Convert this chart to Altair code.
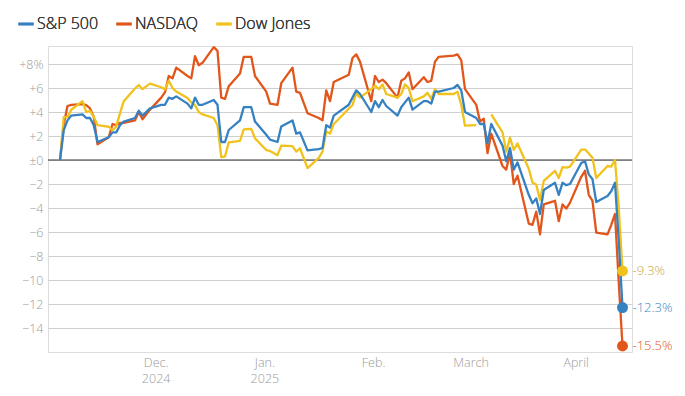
import altair as alt
import pandas as pd

# ---- data (percent change since Nov. 5, 2024 close) ----
dates = [
    "2024-11-05", "2024-11-06", "2024-11-07", "2024-11-08", "2024-11-11", "2024-11-12", "2024-11-13",
    "2024-11-14", "2024-11-15", "2024-11-18", "2024-11-19", "2024-11-20", "2024-11-21", "2024-11-22",
    "2024-11-25", "2024-11-26", "2024-11-27", "2024-11-29",
    "2024-12-02", "2024-12-03", "2024-12-04", "2024-12-05", "2024-12-06", "2024-12-09", "2024-12-10",
    "2024-12-11", "2024-12-12", "2024-12-13", "2024-12-16", "2024-12-17", "2024-12-18", "2024-12-19",
    "2024-12-20", "2024-12-23", "2024-12-24", "2024-12-26", "2024-12-27", "2024-12-30", "2024-12-31",
    "2025-01-02", "2025-01-03", "2025-01-06", "2025-01-07", "2025-01-08", "2025-01-10", "2025-01-13",
    "2025-01-14", "2025-01-15", "2025-01-16", "2025-01-17", "2025-01-21", "2025-01-22", "2025-01-23",
    "2025-01-24", "2025-01-27", "2025-01-28", "2025-01-29", "2025-01-30", "2025-01-31",
    "2025-02-03", "2025-02-04", "2025-02-05", "2025-02-06", "2025-02-07", "2025-02-10", "2025-02-11",
    "2025-02-12", "2025-02-13", "2025-02-14", "2025-02-18", "2025-02-19", "2025-02-20", "2025-02-21",
    "2025-02-24", "2025-02-25", "2025-02-26", "2025-02-27", "2025-02-28",
    "2025-03-03", "2025-03-04", "2025-03-05", "2025-03-06", "2025-03-07", "2025-03-10", "2025-03-11",
    "2025-03-12", "2025-03-13", "2025-03-14", "2025-03-17", "2025-03-18", "2025-03-19", "2025-03-20",
    "2025-03-21", "2025-03-24", "2025-03-25", "2025-03-26", "2025-03-27", "2025-03-28", "2025-03-31",
    "2025-04-01", "2025-04-02", "2025-04-03", "2025-04-04",
]

sp500 = [
    0, 2.5, 3.3, 3.7, 3.8, 3.5, 3.5, 2.9, 1.5, 1.9, 2.3, 2.3, 2.9, 3.2, 3.5, 4.1, 3.7, 4.3,
    4.6, 4.6, 5.2, 5.1, 5.3, 4.7, 4.3, 5.2, 4.6, 4.6, 5.0, 4.6, 1.5, 1.5, 2.5, 3.3, 4.4, 4.4, 3.2, 2.1, 1.7,
    1.5, 2.8, 3.3, 2.2, 2.3, 0.8, 0.9, 1.0, 2.9, 2.7, 3.7, 4.6, 5.2, 5.8, 5.5, 4.0, 4.9, 4.4, 5.0, 4.5,
    3.7, 4.4, 4.8, 5.2, 4.2, 4.9, 4.9, 4.7, 5.7, 5.7, 6.0, 6.25, 5.8, 4.0, 3.5, 3.0, 3.0, 1.4, 3.0,
    1.2, -0.1, 1.0, -0.8, -0.2, -2.9, -3.6, -3.2, -4.5, -2.5, -1.9, -2.9, -1.9, -2.1, -2.0, -0.25, -0.1,
    -1.2, -1.6, -3.5, -3.0,
    -2.6, -1.9, -6.7, -12.3,
]

nasdaq = [
    0, 2.95, 4.5, 4.6, 4.66, 4.57, 4.3, 3.6, 1.3, 1.9, 3.0, 2.9, 3.1, 3.1, 3.3, 4.0, 3.4, 4.2,
    5.2, 5.65, 7.0, 6.8, 7.7, 7.0, 6.8, 8.65, 7.9, 8.1, 9.4, 9.1, 5.2, 5.1, 6.15, 7.2, 8.6, 8.6, 7.0, 5.7, 4.7,
    4.6, 6.4, 7.7, 5.7, 5.6, 3.9, 3.5, 3.3, 5.8, 4.9, 6.5, 7.1, 8.5, 8.8, 8.2, 4.9, 7.0, 6.5, 6.7, 6.4,
    5.2, 6.6, 6.8, 7.3, 5.9, 6.9, 6.5, 6.6, 8.2, 8.6, 8.7, 8.8, 8.3, 5.9, 4.6, 3.2, 3.45, 0.57, 2.2,
    -0.5, -0.8, 0.6, -2.0, -1.3, -5.3, -5.4, -4.3, -6.2, -3.7, -3.4, -5.1, -3.7, -4.05, -3.55, -1.4, -0.9,
    -2.9, -3.4, -6.05, -6.2,
    -5.4, -4.5, -10.2, -15.5,
]

dow = [
    0, 3.57, 3.57, 4.19, 4.9, 4.0, 4.1, 3.6, 2.9, 2.77, 2.48, 2.8, 3.9, 4.9, 5.96, 6.25, 5.9, 6.37,
    6.06, 5.88, 6.6, 6.0, 5.7, 5.16, 4.8, 4.56, 4.0, 3.8, 3.5, 2.9, 0.25, 0.29, 1.47, 1.6, 2.55, 2.6, 1.8,
    0.83, 0.76,
    0.4, 1.2, 1.15, 0.7, 0.98, -0.67, 0.18, 0.7, 2.37, 2.2, 3.0, 4.27, 4.58, 5.55, 5.2, 5.9, 6.2, 5.9, 6.3, 5.5,
    5.2, 5.5, 6.3, 6.0, 4.9, 5.3, 5.6, 5.1, 5.9, 5.5, 5.5, 5.7, 4.6, 2.86, 2.9, None, None, None, 3.8,
    2.3, 0.7, 1.86, 0.85, 1.37, -0.73, -1.87, -2.06, -3.34, -1.74, -0.9, -1.5, -0.6, -0.64, -0.56, 0.86,
    0.87, 0.55, 0.18, -1.5, -0.5,
    -0.55, 0.0, -3.97, -9.25,
]

series_names = ["S&P 500", "NASDAQ", "Dow Jones"]
series_colors = ["#3581c1", "#e2561b", "#f1c21b"]
label_colors = ["#3a86c6", "#e0561b", "#c9a535"]
end_labels = ["-12.3%", "-15.5%", "-9.3%"]

y_ticks = [8, 6, 4, 2, 0, -2, -4, -6, -8, -10, -12, -14]

# month label placement (as drawn in the reference)
month_ticks = ["2024-11-30", "2024-12-29", "2025-01-27", "2025-02-22", "2025-03-22"]
month_labels = [["Dec.", "2024"], ["Jan.", "2025"], "Feb.", "March", "April"]

# ---- build table ----
rows = []
for name, vals in zip(series_names, [sp500, nasdaq, dow]):
    for d, v in zip(dates, vals):
        rows.append({"date": d, "index": name, "value": v})
df = pd.DataFrame(rows)

ends = pd.DataFrame({
    "date": [dates[-1]] * 3,
    "index": series_names,
    "value": [sp500[-1], nasdaq[-1], dow[-1]],
    "label": end_labels,
})


def utc_dt(s, hours=0, minutes=0):
    y, m, d = (int(p) for p in s.split("-"))
    return alt.DateTime(year=y, month=m, date=d, hours=hours, minutes=minutes, utc=True)


# label expression from tick dates
label_expr = ""
for t, lab in zip(month_ticks, month_labels):
    m = int(t.split("-")[1])
    if isinstance(lab, list):
        txt = "[" + ", ".join("'" + s + "'" for s in lab) + "]"
    else:
        txt = "'" + lab + "'"
    label_expr += f"utcmonth(datum.value) == {m - 1} ? {txt} : "
label_expr += "''"

FONT = "Open Sans"

x_scale = alt.Scale(
    type="utc",
    domain=[utc_dt("2024-11-01", 19, 12), utc_dt("2025-04-06", 12, 48)],
)
y_scale = alt.Scale(domain=[-16, 9.5], nice=False, zero=False)
color_scale = alt.Scale(domain=series_names, range=series_colors)

x_axis = alt.Axis(
    values=[utc_dt(t, 12) for t in month_ticks],
    labelExpr=label_expr,
    domain=False, ticks=False, grid=False, title=None,
    labelFont=FONT, labelFontSize=12.5, labelFontWeight=300, labelColor="#9a9a9a",
    labelLineHeight=16, labelPadding=4, labelBaseline="top",
)
y_axis = alt.Axis(
    values=y_ticks,
    labelExpr="datum.value == 8 ? '+8%' : datum.value > 0 ? '+' + datum.value : "
              "datum.value == 0 ? '±0' : '\u2212' + abs(datum.value)",
    domain=False, ticks=False, grid=True, gridColor="#cfcfcf", gridWidth=1,
    title=None, labelFont=FONT, labelFontSize=12.5, labelFontWeight=300, labelColor="#9a9a9a",
    labelPadding=5,
)

base = alt.Chart(df)

zero_rule = alt.Chart(pd.DataFrame({"value": [0]})).mark_rule(
    color="#333333", strokeWidth=1
).encode(y=alt.Y("value:Q", scale=y_scale, axis=y_axis))

line_layers = []
for name in ["NASDAQ", "Dow Jones", "S&P 500"]:
    line_layers.append(
        base.transform_filter(alt.datum["index"] == name).mark_line(
            strokeWidth=2.3, strokeJoin="round"
        ).encode(
            x=alt.X("date:T", scale=x_scale, axis=x_axis),
            y=alt.Y("value:Q", scale=y_scale, axis=y_axis),
            color=alt.Color(
                "index:N", scale=color_scale,
                legend=alt.Legend(
                    title=None, orient="none", legendX=-31, legendY=-31,
                    direction="horizontal", symbolType="stroke",
                    symbolStrokeWidth=2.5, symbolSize=225,
                    labelFont=FONT, labelFontSize=16, labelFontWeight=300,
                    labelColor="#3c3c3c", labelOffset=2, columnPadding=12,
                ),
            ),
        )
    )

dots = alt.Chart(ends).mark_circle(size=120, opacity=1).encode(
    x=alt.X("date:T", scale=x_scale, axis=x_axis),
    y=alt.Y("value:Q", scale=y_scale, axis=y_axis),
    color=alt.Color("index:N", scale=color_scale, legend=None),
)

texts = alt.Chart(ends).mark_text(
    align="left", baseline="middle", dx=10, font=FONT, fontSize=13, fontWeight=300
).encode(
    x=alt.X("date:T", scale=x_scale, axis=x_axis),
    y=alt.Y("value:Q", scale=y_scale, axis=y_axis),
    text="label:N",
    color=alt.Color("index:N", scale=alt.Scale(domain=series_names, range=label_colors), legend=None),
)

chart = alt.layer(zero_rule, *line_layers, dots, texts).resolve_scale(color="independent").properties(
    width=584, height=306,
    autosize=alt.AutoSizeParams(type="none"),
    padding={"left": 40, "top": 38, "right": 44, "bottom": 34},
).configure_view(stroke=None).configure(background="white")

chart.save("out.html", embed_options={"renderer": "svg", "actions": False})
